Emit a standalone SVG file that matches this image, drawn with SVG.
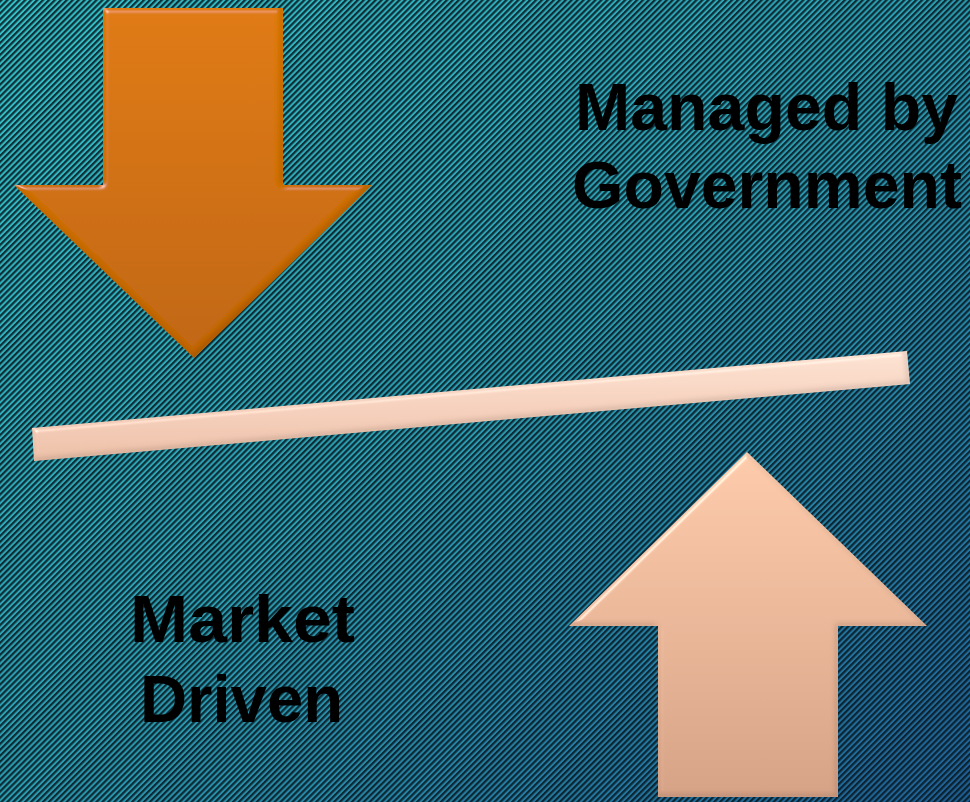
<svg xmlns="http://www.w3.org/2000/svg" width="970" height="802" viewBox="0 0 970 802">
  <defs>
    <linearGradient id="bg" x1="0" y1="0" x2="1" y2="1">
      <stop offset="0" stop-color="#33c0c6"/>
      <stop offset="0.5" stop-color="#2a9cb0"/>
      <stop offset="1" stop-color="#1f5f95"/>
    </linearGradient>
    <pattern id="stripes" patternUnits="userSpaceOnUse" width="4.2" height="4.2" patternTransform="rotate(45)">
      <rect x="0" y="0" width="2.2" height="4.2" fill="#071820" fill-opacity="0.85"/>
    </pattern>
    <linearGradient id="orange" x1="0" y1="0" x2="0" y2="1">
      <stop offset="0" stop-color="#df7a0b"/>
      <stop offset="1" stop-color="#c06500"/>
    </linearGradient>
    <linearGradient id="peach" x1="0" y1="0" x2="0" y2="1">
      <stop offset="0" stop-color="#fdcbab"/>
      <stop offset="1" stop-color="#d6a286"/>
    </linearGradient>
    <linearGradient id="plank" x1="0" y1="0" x2="0" y2="1">
      <stop offset="0" stop-color="#fde2d3"/>
      <stop offset="1" stop-color="#edc0a8"/>
    </linearGradient>
    <filter id="bevel" x="-5%" y="-5%" width="110%" height="110%">
      <feGaussianBlur in="SourceAlpha" stdDeviation="2.5" result="b"/>
      <feSpecularLighting in="b" surfaceScale="4" specularConstant="0.8" specularExponent="30" lighting-color="#ffffff" result="s">
        <feDistantLight azimuth="235" elevation="30"/>
      </feSpecularLighting>
      <feComposite in="s" in2="SourceAlpha" operator="in" result="s2"/>
      <feOffset in="b" dx="-2" dy="-2" result="bo"/>
      <feComposite in="SourceAlpha" in2="bo" operator="out" result="edge"/>
      <feGaussianBlur in="edge" stdDeviation="1.5" result="edgeb"/>
      <feFlood flood-color="#000" flood-opacity="0.35"/>
      <feComposite in2="edgeb" operator="in" result="sh"/>
      <feComposite in="sh" in2="SourceAlpha" operator="in" result="sh2"/>
      <feComposite in="SourceGraphic" in2="s2" operator="arithmetic" k1="0" k2="1" k3="0.5" k4="0" result="lit"/>
      <feMerge>
        <feMergeNode in="lit"/>
        <feMergeNode in="sh2"/>
      </feMerge>
    </filter>
    <style>
      .lbl { font-family: "Liberation Sans", Arial, sans-serif; font-weight: bold; font-size: 67px; fill: #000; }
    </style>
  </defs>

  <g id="background">
    <rect x="0" y="0" width="970" height="802" fill="url(#bg)"/>
    <rect x="0" y="0" width="970" height="802" fill="url(#stripes)"/>
  </g>

  <g id="down-arrow">
    <polygon points="103,8 283,8 283,185 372,185 194,358 14,185 103,185" fill="url(#orange)" filter="url(#bevel)"/>
  </g>

  <g id="up-arrow">
    <polygon points="747,452 927,626 838,626 838,797 658,797 658,626 569,626" fill="url(#peach)" filter="url(#bevel)"/>
  </g>

  <g id="plank-bar">
    <polygon points="32,428 907,351 910,384 34,461" fill="url(#plank)" filter="url(#bevel)"/>
  </g>

  <g id="label-government">
    <text class="lbl" x="575" y="130" textLength="383" lengthAdjust="spacingAndGlyphs">Managed by</text>
    <text class="lbl" x="572" y="208" textLength="390" lengthAdjust="spacingAndGlyphs">Government</text>
  </g>

  <g id="label-market">
    <text class="lbl" x="130" y="642" textLength="225" lengthAdjust="spacingAndGlyphs">Market</text>
    <text class="lbl" x="140" y="722" textLength="203" lengthAdjust="spacingAndGlyphs">Driven</text>
  </g>

  <g id="connectors"/>
</svg>
